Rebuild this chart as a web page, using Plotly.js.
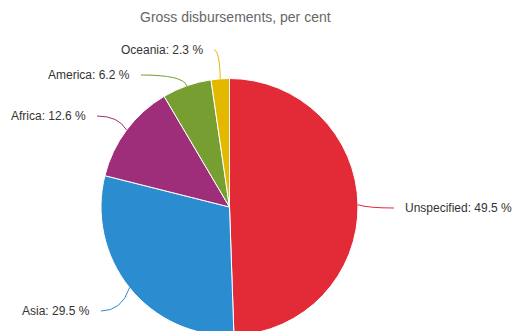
<!DOCTYPE html>
<html>
<head>
<meta charset="utf-8">
<script src="https://cdn.plot.ly/plotly-3.0.1.min.js"></script>
<style>
html,body{margin:0;padding:0;overflow:hidden;background:#fff;}
#chart{width:513px;height:340px;}
</style>
</head>
<body>
<div id="chart"></div>
<script>
// Data
const regions = ["Unspecified", "Asia", "Africa", "America", "Oceania"];
const shares = [49.5, 29.5, 12.6, 6.2, 2.3];
const colors = ["#e32b38", "#2b8dcf", "#9e2d7a", "#769e30", "#e5b800"];
const subtitle = "Gross disbursements, per cent";

// Layout (pixels)
const W = 513, H = 340;
const cx = 229.5, cy = 207, R = 128.5;
const labelX = [405, 90, 86, 130, 203];
const labelY = [208, 311, 116, 75, 50];
const labelSide = ["left", "right", "right", "right", "right"];
const gap = 11;
const pad = 2; // annotation box padding compensation

const px = x => x / W;
const py = y => 1 - y / H;

const total = shares.reduce((a, b) => a + b, 0);
let cum = 0;
const shapes = [];
const annotations = [];
shares.forEach((v, i) => {
  const mid = (cum + v / 2) / total * 2 * Math.PI;
  cum += v;
  const s = Math.sin(mid), c = Math.cos(mid);
  const p0 = [cx + R * s, cy - R * c];
  const p1 = [cx + (R + 10) * s, cy - (R + 10) * c];
  const left = labelSide[i] === "left";
  const pe = [left ? labelX[i] - gap : labelX[i] + gap, labelY[i]];
  const path = "M " + px(p0[0]) + "," + py(p0[1]) +
               " Q " + px(p1[0]) + "," + py(pe[1]) +
               " " + px(pe[0]) + "," + py(pe[1]);
  shapes.push({type: "path", xref: "paper", yref: "paper", path: path,
               line: {color: colors[i], width: 1}});
  annotations.push({
    xref: "paper", yref: "paper", x: px(left ? labelX[i] - pad : labelX[i] + pad), y: py(labelY[i]),
    xanchor: labelSide[i], yanchor: "middle", showarrow: false,
    text: regions[i] + ": " + v + " %",
    font: {family: "Liberation Sans, Arial, sans-serif", size: 12, color: "#333333"}
  });
});
annotations.push({
  xref: "paper", yref: "paper", x: px(235), y: py(17),
  xanchor: "center", yanchor: "middle", showarrow: false,
  text: subtitle,
  font: {family: "Liberation Sans, Arial, sans-serif", size: 14, color: "#666666"}
});

const trace = {
  type: "pie",
  labels: regions,
  values: shares,
  sort: false,
  direction: "clockwise",
  rotation: 0,
  textinfo: "none",
  hoverinfo: "label+value",
  showlegend: false,
  marker: {colors: colors, line: {color: "#ffffff", width: 1}},
  domain: {x: [px(cx - R), px(cx + R)], y: [py(cy + R), py(cy - R)]}
};

Plotly.newPlot("chart", [trace], {
  width: W, height: H,
  margin: {l: 0, r: 0, t: 0, b: 0},
  paper_bgcolor: "#ffffff",
  shapes: shapes,
  annotations: annotations,
  showlegend: false
}, {displayModeBar: false, staticPlot: true});
</script>
</body>
</html>
